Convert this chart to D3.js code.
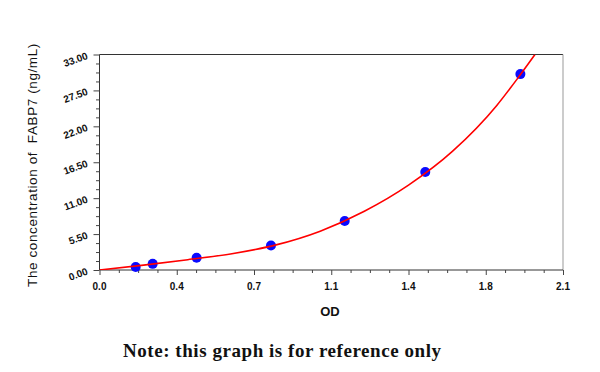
<!DOCTYPE html>
<html>
<head>
<meta charset="utf-8">
<script src="https://cdn.jsdelivr.net/npm/d3@7"></script>
<style>
  body { margin: 0; background: #fff; }
  svg { display: block; }
  .tick-label { font-family: "Liberation Sans", Arial, sans-serif; font-weight: bold; fill: #111; }
</style>
</head>
<body>
<svg id="chart" width="600" height="372"></svg>
<script>
// standards: OD, concentration (ng/mL)
var pointOD = [0.164, 0.241, 0.440, 0.777, 1.111, 1.476, 1.907];
var pointConc = [0.47, 0.94, 1.88, 3.75, 7.5, 15, 30];

// fitted curve at even OD steps
var curveOD = [0, 0.2, 0.4, 0.6, 0.8, 1.0, 1.2, 1.4, 1.6, 1.8, 1.9, 1.973];
var curveConc = [0, 0.75, 1.58, 2.5, 3.85, 5.95, 9.0, 13.0, 18.2, 25.2, 29.6, 33.0];

var xTicks = [0, 0.35, 0.7, 1.05, 1.4, 1.75, 2.1];
var xTickLabels = ['0.0', '0.4', '0.7', '1.1', '1.4', '1.8', '2.1'];
var yTicks = [0, 5.5, 11, 16.5, 22, 27.5, 33];
var yTickLabels = ['0.00', '5.50', '11.00', '16.50', '22.00', '27.50', '33.00'];

var svg = d3.select('#chart');

var plotLeft = 99.5, plotRight = 563, plotTop = 54.5, plotBottom = 270;

var x = d3.scaleLinear().domain([0, 2.1]).range([plotLeft, plotRight]);
var y = d3.scaleLinear().domain([0, 33]).range([plotBottom, plotTop]);

svg.append('defs').append('clipPath')
  .attr('id', 'plot-clip')
  .append('rect')
  .attr('x', plotLeft)
  .attr('y', plotTop)
  .attr('width', plotRight - plotLeft)
  .attr('height', plotBottom - plotTop);

// frame: top and right
svg.append('line')
  .attr('x1', plotLeft).attr('x2', plotRight)
  .attr('y1', plotTop).attr('y2', plotTop)
  .attr('stroke', '#333').attr('stroke-width', 1);

svg.append('line')
  .attr('x1', plotRight).attr('x2', plotRight)
  .attr('y1', plotTop).attr('y2', plotBottom)
  .attr('stroke', '#999').attr('stroke-width', 1);

// minor ticks: 4 per major interval
var xMinor = d3.range(0, 25).map(function(i) { return i * 0.0875; });
var yMinor = d3.range(0, 25).map(function(i) { return i * 1.375; });

var xAxis = d3.axisBottom(x)
  .tickValues(xMinor)
  .tickSize(3)
  .tickFormat('');

var gx = svg.append('g')
  .attr('transform', 'translate(0,' + plotBottom + ')')
  .call(xAxis);

gx.select('.domain').attr('stroke', '#333').attr('d', 'M' + plotLeft + ',0H' + plotRight);
gx.selectAll('.tick line').attr('stroke', '#444')
  .attr('y2', function(d, i) { return i % 4 === 0 ? 5 : 3; });

gx.selectAll('.tick-label')
  .data(xTicks)
  .enter()
  .append('text')
  .attr('class', 'tick-label')
  .attr('x', function(d) { return x(d); })
  .attr('y', 20)
  .attr('text-anchor', 'middle')
  .attr('font-size', '10px')
  .text(function(d, i) { return xTickLabels[i]; });

var yAxis = d3.axisLeft(y)
  .tickValues(yMinor)
  .tickSize(3)
  .tickFormat('');

var gy = svg.append('g')
  .attr('transform', 'translate(' + plotLeft + ',0)')
  .call(yAxis);

gy.select('.domain').attr('stroke', '#333').attr('d', 'M0,' + plotTop + 'V' + plotBottom);
gy.selectAll('.tick line').attr('stroke', '#444')
  .attr('x2', function(d, i) { return i % 4 === 0 ? -6 : -3.5; });

gy.selectAll('.tick-label')
  .data(yTicks)
  .enter()
  .append('text')
  .attr('class', 'tick-label')
  .attr('text-anchor', 'end')
  .attr('font-size', '10px')
  .attr('transform', function(d) {
    return 'translate(-11,' + (y(d) + 4) + ') rotate(-20)';
  })
  .text(function(d, i) { return yTickLabels[i]; });

// standards
var points = pointOD.map(function(d, i) { return { od: d, conc: pointConc[i] }; });

svg.append('g')
  .selectAll('circle')
  .data(points)
  .enter()
  .append('circle')
  .attr('cx', function(d) { return x(d.od); })
  .attr('cy', function(d) { return y(d.conc); })
  .attr('r', 5)
  .attr('fill', '#0a0aff');

// fitted curve drawn over the points
var curve = curveOD.map(function(d, i) { return [d, curveConc[i]]; });

var line = d3.line()
  .x(function(d) { return x(d[0]); })
  .y(function(d) { return y(d[1]); })
  .curve(d3.curveMonotoneX);

svg.append('path')
  .datum(curve)
  .attr('clip-path', 'url(#plot-clip)')
  .attr('d', line)
  .attr('fill', 'none')
  .attr('stroke', '#ff0000')
  .attr('stroke-width', 1.6);

// axis titles
svg.append('text')
  .attr('x', 330)
  .attr('y', 316)
  .attr('text-anchor', 'middle')
  .attr('font-family', '"Liberation Sans", Arial, sans-serif')
  .attr('font-weight', 'bold')
  .attr('font-size', '13px')
  .attr('fill', '#111')
  .text('OD');

svg.append('text')
  .attr('transform', 'translate(37,165) rotate(-90)')
  .attr('text-anchor', 'middle')
  .attr('font-family', '"Liberation Sans", Arial, sans-serif')
  .attr('font-size', '13.5px')
  .attr('letter-spacing', '0.6px')
  .style('white-space', 'pre')
  .attr('fill', '#111')
  .text('The concentration of  FABP7 (ng/mL)');

svg.append('text')
  .attr('x', 123)
  .attr('y', 357)
  .attr('font-family', '"Liberation Serif", "DejaVu Serif", serif')
  .attr('font-weight', 'bold')
  .attr('font-size', '19px')
  .attr('letter-spacing', '0.55px')
  .attr('fill', '#111')
  .text('Note: this graph is for reference only');
</script>
</body>
</html>
